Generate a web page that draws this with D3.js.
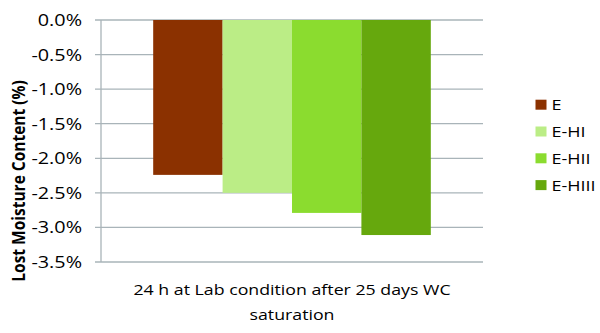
<!DOCTYPE html>
<html><head><meta charset="utf-8">
<script src="https://cdn.jsdelivr.net/npm/d3@7"></script>
<style>body{margin:0;background:#fff}svg{display:block}text{font-family:"Open Sans",sans-serif;fill:#000}</style>
</head><body>
<svg id="c" width="600" height="333"></svg>
<script>
const category = ["24 h at Lab condition after 25 days WC", "saturation"];
const series = ["E", "E-HI", "E-HII", "E-HIII"];
const values = [-2.24, -2.5, -2.79, -3.11];
const colors = ["#8b3100", "#bbed86", "#8bdc2f", "#66a80d"];
const yTicks = [0, -0.5, -1.0, -1.5, -2.0, -2.5, -3.0, -3.5];

const SX = 1.2; // horizontal stretch of the original picture
const svg = d3.select("#c");
const L = 101, R = 483, T = 20, B = 262;
const y = d3.scaleLinear().domain([0, -3.5]).range([T, B]);
const xc = d3.scaleBand().domain(["c"]).range([L, R]).paddingInner(0).paddingOuter(0.188);
const xs = d3.scaleBand().domain(series).range([xc("c"), xc("c") + xc.bandwidth()]);

// gridlines
svg.append("g").selectAll("line").data(yTicks).join("line")
  .attr("x1", L - 6).attr("x2", R).attr("y1", d => y(d)).attr("y2", d => y(d))
  .attr("stroke", "#a9b4b9").attr("stroke-width", 1.3);
svg.append("line").attr("x1", L).attr("x2", L).attr("y1", T).attr("y2", B)
  .attr("stroke", "#a9b4b9").attr("stroke-width", 1.3);

// y tick labels
svg.append("g").selectAll("g").data(yTicks).join("g")
  .attr("transform", d => `translate(82,${y(d)}) scale(${SX},1)`)
  .append("text").attr("dy", "0.36em").attr("text-anchor", "end")
  .style("font-size", "16.5px").text(d => d3.format(".1%")(d / 100).replace("−", "-"));

// bars
svg.append("g").selectAll("rect").data(values).join("rect")
  .attr("x", (d, i) => xs(series[i])).attr("width", xs.bandwidth())
  .attr("y", d => y(0)).attr("height", d => y(d) - y(0))
  .attr("fill", (d, i) => colors[i]);

// category label
svg.append("g").selectAll("g").data(category).join("g")
  .attr("transform", (d, i) => `translate(${xc("c") + xc.bandwidth() / 2},${295 + i * 25}) scale(${SX},1)`)
  .append("text").attr("text-anchor", "middle").style("font-size", "14.8px").text(d => d);

// y title
svg.append("text").attr("transform", `translate(25,181) rotate(-90) scale(1,${SX})`)
  .attr("text-anchor", "middle").style("font-size", "15.5px").style("font-weight", "bold")
  .text("Lost Moisture Content (%)");

// legend
const lg = svg.append("g").selectAll("g").data(series).join("g")
  .attr("transform", (d, i) => `translate(535.5,${104.7 + i * 26.8})`);
lg.append("rect").attr("x", 0).attr("y", -5).attr("width", 11).attr("height", 10)
  .attr("fill", (d, i) => colors[i]);
lg.append("g").attr("transform", `translate(16,0) scale(${SX},1)`)
  .append("text").attr("dy", "0.36em").style("font-size", "15px").text(d => d);
</script>
</body></html>
